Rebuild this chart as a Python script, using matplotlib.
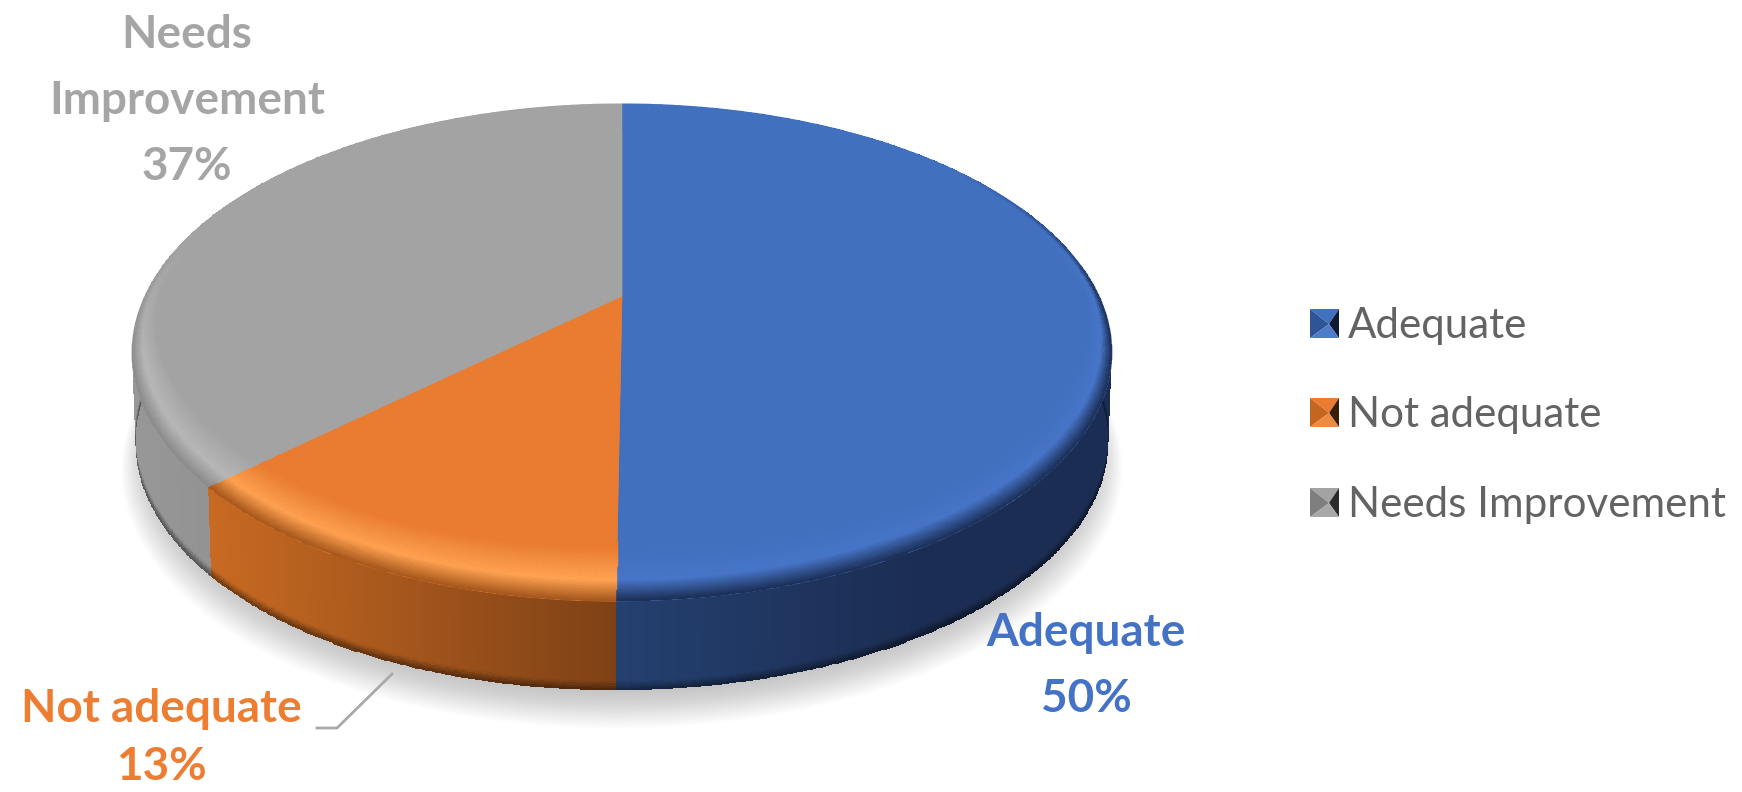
import numpy as np
import matplotlib
matplotlib.use('Agg')
import matplotlib.pyplot as plt
from matplotlib.colors import to_rgb

categories = ['Adequate', 'Not adequate', 'Needs Improvement']
shares = [50, 13, 37]
base_colors = ['#4170bf', '#e97c30', '#a3a3a3']
ridge_colors = ['#4775c8', '#ffa352', '#b8b8b8']
wall_left = ['#1b2d52', '#c86a22', '#979797']
wall_right = ['#24406f', '#7e4116', '#7c7c7c']
data_labels = [('Adequate\n50%', 1086, 666, 1.7), ('Not adequate\n13%', 161, 738, 1.5),
               ('Needs\nImprovement\n37%', 187, 101, 1.7)]
label_colors = ['#4472c4', '#ed7d31', '#a5a5a5']

# perspective of the disc, in output pixels
CX, CY, A, B, K = 622, 296, 477, 235.7, 0.2275
DEPTH = 89
BOTTOM_SHRINK = 0.993

plt.rcParams['font.family'] = ['Lato', 'DejaVu Sans']


def project(r, theta, drop=0.0, shrink=1.0):
    """theta is in degrees, clockwise from 12 o'clock."""
    px = r * np.sin(np.radians(theta))
    py = r * np.cos(np.radians(theta))
    w = 1 + K * py
    sx = CX + shrink * A * px / w + 6 * np.minimum(py, 0) ** 3
    sy = CY - B * py / w + drop
    return sx, sy


def mix(c1, c2, t):
    t = np.asarray(t)[..., None]
    return np.asarray(c1) * (1 - t) + np.asarray(c2) * t


fig = plt.figure(figsize=(17.42, 7.92), dpi=100, facecolor='white')
ax = fig.add_axes([0, 0, 1, 1])
ax.set_xlim(0, 1742)
ax.set_ylim(792, 0)
ax.axis('off')

# slice limits come from the shares
edges = np.concatenate([[0], np.cumsum(shares)]) / np.sum(shares) * 360

# soft shadow below the disc
theta_all = np.linspace(0, 360, 361)
for s, d in zip(np.linspace(1.035, 0.97, 26), np.linspace(DEPTH + 24, DEPTH + 6, 26)):
    sx, sy = project(s, theta_all, drop=d, shrink=0.985)
    ax.fill(sx, sy, color='#808080', alpha=0.022, lw=0, zorder=1)

# side wall
for i in [0, 2, 1]:
    th = np.linspace(edges[i], edges[i + 1], int(edges[i + 1] - edges[i]) * 3 + 2)
    v = np.linspace(0, 1, 41)
    x_top, y_top = project(1.0, th)
    x_bot, y_bot = project(1.0, th, drop=DEPTH, shrink=BOTTOM_SHRINK)
    X = np.outer(1 - v, x_top) + np.outer(v, x_bot)
    Y = np.outer(1 - v, y_top) + np.outer(v, y_bot)
    # horizontal gradient along the wall
    xc = 0.5 * (x_top[:-1] + x_top[1:])
    if i == 0:
        g = np.clip((xc - 620) / 300, 0, 1)
        col = mix(to_rgb(wall_right[i]), to_rgb(wall_left[i]), g)
    else:
        g = (xc - xc.min()) / (xc.max() - xc.min())
        col = mix(to_rgb(wall_left[i]), to_rgb(wall_right[i]), g)
    vc = 0.5 * (v[:-1] + v[1:])
    dark = 1 - 0.45 * np.clip((vc - 0.9) / 0.1, 0, 1)
    C = col[None, :, :] * dark[:, None, None]
    ax.pcolormesh(X, Y, C, zorder=2, antialiased=False)

# top surface
for i in range(3):
    th = np.linspace(edges[i], edges[i + 1], 400)
    sx, sy = project(1.0, th)
    ax.fill(np.r_[CX, sx], np.r_[CY, sy], color=base_colors[i], lw=0.5, zorder=3)

# bevel round the rim
r = np.linspace(0.84, 1.0, 41)
rc = 0.5 * (r[:-1] + r[1:])
for i in range(3):
    th = np.linspace(edges[i], edges[i + 1], int(edges[i + 1] - edges[i]) * 3 + 2)
    tc = 0.5 * (th[:-1] + th[1:])
    front = np.clip(-np.cos(np.radians(tc)), 0, 1)
    X, Y = project(r[:, None], th[None, :])
    limit = 0.6 if i == 0 else 0.25
    strength = np.clip((limit - np.cos(np.radians(tc))) / 0.55, 0, 1)
    width = 0.03 + 0.11 * front
    t = np.clip((rc[:, None] - (1 - width[None, :])) / width[None, :], 0, 1)
    base = np.asarray(to_rgb(base_colors[i]))
    ridge = mix(base, to_rgb(ridge_colors[i]), strength)
    if i == 0:
        edge = mix(base, to_rgb('#1b2d52'), strength)
    else:
        edge = mix(base, mix(to_rgb(wall_left[i]), to_rgb(wall_right[i]), 0.5), strength)
    ridge = ridge[None, :, :]
    edge = edge[None, :, :]
    up = np.clip(t / 0.62, 0, 1)[..., None]
    down = np.clip((t - 0.62) / 0.38, 0, 1)[..., None]
    C = (base * (1 - up) + ridge * up) * (1 - down) + edge * down
    ax.pcolormesh(X, Y, C, zorder=4, edgecolors='face', linewidth=0.3, antialiased=True)

# data labels
for (txt, x, y, spacing), col in zip(data_labels, label_colors):
    ax.text(x, y, txt, color=col, fontsize=33, fontweight='bold', ha='center', va='center',
            linespacing=spacing, zorder=6)

# leader line for the orange slice
ax.plot([392, 337, 317], [674, 728, 728], color='#a9a9a9', lw=2, zorder=5)

# legend
legend_y = [324, 413, 503]
legend_dark = ['#0d1a33', '#3a1d08', '#2a2a2a']
legend_low = ['#4f7cc9', '#ef8a42', '#a8a8a8']
legend_left = ['#2f5597', '#c4661f', '#7f7f7f']
for name, y, c_main, c_dark, c_low, c_left in zip(categories, legend_y, base_colors,
                                                  legend_dark, legend_low, legend_left):
    x0, x1, y0, y1 = 1310, 1339, y - 15, y + 14
    mx, my = 1329, y
    ax.fill([x0, x1, mx], [y0, y0, my], color=c_main, lw=0, zorder=5)
    ax.fill([x0, x0, mx], [y0, y1, my], color=c_left, lw=0, zorder=5)
    ax.fill([x1, x1, mx], [y0, y1, my], color=c_dark, lw=0, zorder=5)
    ax.fill([x0, x1, mx], [y1, y1, my], color=c_low, lw=0, zorder=5)
    ax.text(1348, y + 2, name, color='#636363', fontsize=30.3, ha='left', va='center', zorder=6)

fig.savefig('out.png', dpi=100, facecolor='white')
